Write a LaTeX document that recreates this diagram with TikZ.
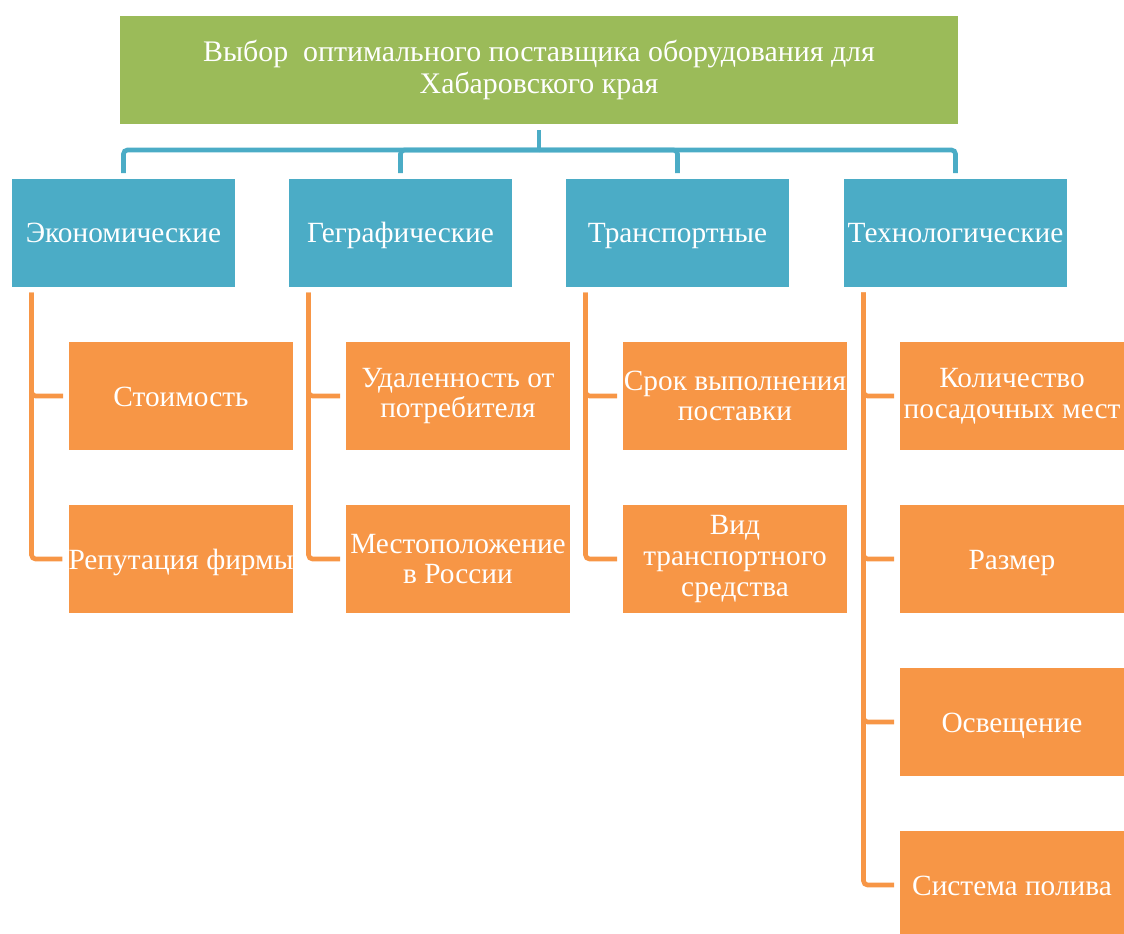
\documentclass[tikz,border=0pt]{standalone}
\usepackage{fontspec}
\setmainfont{Liberation Serif}
\definecolor{topgreen}{HTML}{9BBB59}
\definecolor{catblue}{HTML}{4BACC6}
\definecolor{itemorange}{HTML}{F79646}
\begin{document}
\begin{tikzpicture}[x=0.75pt, y=-0.75pt,
  box/.style={minimum width=167.5pt, minimum height=81.5pt, inner sep=0pt, text=white, align=center, font=\fontsize{22}{23}\selectfont},
  goal/.style={box, fill=topgreen, minimum width=628.5pt, minimum height=81pt, font=\fontsize{22.4}{24}\selectfont},
  cat/.style={box, fill=catblue, oneline},
  item/.style={box, fill=itemorange},
  oneline/.style={text height=15pt, text depth=0pt},
  bluelink/.style={draw=catblue, line width=3.5pt, rounded corners=3pt},
  orlink/.style={draw=itemorange, line width=3.5pt, rounded corners=3pt}]
\useasboundingbox (0,0) rectangle (1124,934);

\node[goal] (goal) at (539,70) {Выбор\ \ оптимального поставщика оборудования для\\Хабаровского края};

\node[cat] (c1) at (123.5,233) {Экономические};
\node[cat] (c2) at (400.5,233) {Геграфические};
\node[cat] (c3) at (677.5,233) {Транспортные};
\node[cat] (c4) at (955.5,233) {Технологические};

\node[item, oneline] (i11) at (181,396) {Стоимость};
\node[item, oneline] (i12) at (181,559) {Репутация фирмы};

\node[item] (i21) at (458,396) {Удаленность от\\потребителя};
\node[item] (i22) at (458,559) {Местоположение\\в России};

\node[item] (i31) at (735,396) {Срок выполнения\\поставки};
\node[item] (i32) at (735,559) {Вид\\транспортного\\средства};

\node[item] (i41) at (1012,396) {Количество\\посадочных мест};
\node[item, oneline] (i42) at (1012,559) {Размер};
\node[item, oneline] (i43) at (1012,722) {Освещение};
\node[item, oneline] (i44) at (1012,885) {Система полива};

\coordinate (bus) at (539,150);
\draw[bluelink, shorten <=4.5pt] (goal.south) -- (bus);
\draw[bluelink] (bus) -| ([yshift=4pt]c1.north);
\draw[bluelink] (bus) -| ([yshift=4pt]c2.north);
\draw[bluelink] (bus) -| ([yshift=4pt]c3.north);
\draw[bluelink] (bus) -| ([yshift=4pt]c4.north);

\draw[orlink] ([shift={(20,5)}]c1.south west) |- ([xshift=-4.5pt]i11.west);
\draw[orlink] ([shift={(20,5)}]c1.south west) |- ([xshift=-4.5pt]i12.west);

\draw[orlink] ([shift={(20,5)}]c2.south west) |- ([xshift=-4.5pt]i21.west);
\draw[orlink] ([shift={(20,5)}]c2.south west) |- ([xshift=-4.5pt]i22.west);

\draw[orlink] ([shift={(20,5)}]c3.south west) |- ([xshift=-4.5pt]i31.west);
\draw[orlink] ([shift={(20,5)}]c3.south west) |- ([xshift=-4.5pt]i32.west);

\draw[orlink] ([shift={(20,5)}]c4.south west) |- ([xshift=-4.5pt]i41.west);
\draw[orlink] ([shift={(20,5)}]c4.south west) |- ([xshift=-4.5pt]i42.west);
\draw[orlink] ([shift={(20,5)}]c4.south west) |- ([xshift=-4.5pt]i43.west);
\draw[orlink] ([shift={(20,5)}]c4.south west) |- ([xshift=-4.5pt]i44.west);
\end{tikzpicture}
\end{document}
